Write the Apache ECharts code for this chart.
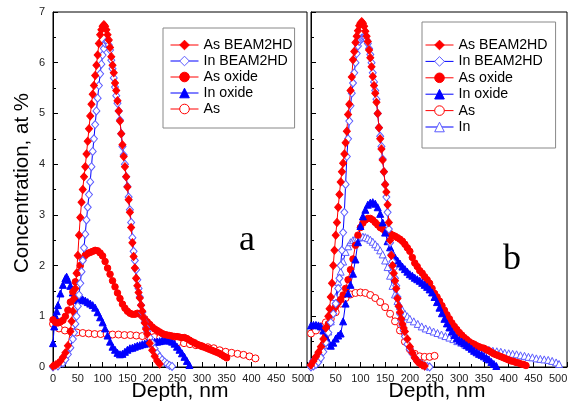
<!DOCTYPE html>
<html>
<head>
<meta charset="utf-8">
<script src="https://cdn.jsdelivr.net/npm/echarts@6/dist/echarts.min.js"></script>
<style>
html,body{margin:0;padding:0;background:#fff;}
#c{width:574px;height:409px;}
</style>
</head>
<body>
<div id="c"></div>
<script>
// ---------- Panel a data [depth nm, concentration at %] ----------
const aAsBeam = [[0,0.02],[5,0.04],[10,0.07],[15,0.12],[20,0.19],[25,0.28],[30,0.42],[35,0.7],[37.5,0.9],[40,1.1],[42.5,1.35],[45,1.55],[47.5,1.85],[50,2.2],[52.5,2.6],[55,2.95],[57.5,3.25],[60,3.5],[62.5,3.75],[65,3.95],[67.5,4.2],[70,4.45],[72.5,4.7],[75,4.95],[77.5,5.18],[80,5.38],[82.5,5.55],[85,5.75],[87.5,5.95],[90,6.15],[92.5,6.38],[95,6.55],[97.5,6.65],[100,6.72],[102.5,6.75],[105,6.72],[107.5,6.65],[110,6.55],[112.5,6.45],[115,6.3],[117.5,6.12],[120,5.95],[122.5,5.8],[125,5.6],[127.5,5.45],[130,5.25],[132.5,5.05],[135,4.85],[137.5,4.6],[140,4.38],[142.5,4.15],[145,3.95],[147.5,3.75],[150,3.55],[152.5,3.3],[155,3.05],[157.5,2.75],[160,2.45],[162.5,2.18],[165,1.95],[167.5,1.75],[170,1.6],[172.5,1.47],[175,1.36],[177.5,1.22],[180,1.1],[182.5,0.97],[185,0.87],[187.5,0.75],[190,0.65],[195,0.47],[200,0.33],[205,0.21],[210,0.12],[215,0.06]];
const aInBeam = [[0,0],[10,0.02],[20,0.08],[25,0.15],[30,0.25],[35,0.38],[40,0.55],[42.5,0.68],[45,0.85],[47.5,1.0],[50,1.2],[52.5,1.42],[55,1.65],[57.5,1.88],[60,2.1],[62.5,2.35],[65,2.62],[67.5,2.9],[70,3.15],[72.5,3.4],[75,3.65],[77.5,3.95],[80,4.25],[82.5,4.5],[85,4.78],[87.5,5.05],[90,5.3],[92.5,5.55],[95,5.78],[97.5,5.97],[100,6.15],[102.5,6.28],[105,6.38],[107.5,6.42],[110,6.42],[112.5,6.35],[115,6.25],[117.5,6.05],[120,5.88],[122.5,5.7],[125,5.52],[127.5,5.35],[130,5.2],[132.5,5.05],[135,4.87],[137.5,4.6],[140,4.35],[142.5,4.18],[145,4.0],[147.5,3.75],[150,3.56],[152.5,3.35],[155,3.1],[157.5,2.85],[160,2.55],[162.5,2.28],[165,2.1],[167.5,1.92],[170,1.72],[172.5,1.55],[175,1.38],[177.5,1.22],[180,1.08],[182.5,0.97],[185,0.88],[187.5,0.78],[190,0.7],[195,0.58],[200,0.47],[205,0.36],[210,0.27],[215,0.2],[220,0.14],[225,0.1],[230,0.06],[235,0.03],[240,0.01]];
const aAsOxide = [[0,0.93],[5,0.88],[10,0.87],[15,0.89],[20,0.92],[25,1.0],[30,1.12],[35,1.28],[40,1.48],[45,1.68],[50,1.86],[55,2.0],[60,2.12],[65,2.2],[70,2.24],[75,2.26],[80,2.28],[85,2.3],[90,2.29],[95,2.25],[100,2.19],[105,2.08],[110,1.95],[115,1.83],[120,1.7],[125,1.58],[130,1.46],[135,1.35],[140,1.24],[145,1.16],[150,1.1],[155,1.06],[160,1.04],[165,1.04],[170,1.06],[175,1.04],[180,1.0],[185,0.95],[190,0.89],[195,0.84],[200,0.79],[205,0.75],[210,0.72],[215,0.69],[220,0.66],[225,0.64],[230,0.63],[235,0.62],[240,0.61],[245,0.6],[250,0.6],[255,0.59],[260,0.58],[265,0.58],[270,0.56],[275,0.53],[280,0.5],[285,0.48],[290,0.45],[295,0.43],[300,0.41],[305,0.39],[310,0.37],[315,0.35],[320,0.33],[325,0.31],[330,0.29],[335,0.27],[340,0.24],[345,0.21],[350,0.18]];
const aInOxide = [[0,0.47],[2.5,0.8],[5,1.0],[7.5,1.1],[10,1.22],[15,1.45],[20,1.62],[25,1.75],[27.5,1.78],[30,1.72],[35,1.6],[40,1.47],[45,1.36],[50,1.32],[55,1.35],[60,1.33],[65,1.31],[70,1.28],[75,1.25],[80,1.22],[85,1.17],[90,1.08],[95,0.98],[100,0.88],[105,0.76],[110,0.62],[115,0.5],[120,0.4],[125,0.34],[130,0.28],[135,0.25],[140,0.26],[145,0.3],[150,0.34],[155,0.37],[160,0.38],[165,0.4],[170,0.42],[175,0.43],[180,0.45],[185,0.46],[190,0.47],[195,0.48],[200,0.49],[205,0.5],[210,0.5],[215,0.51],[220,0.52],[225,0.53],[230,0.53],[235,0.52],[240,0.5],[245,0.46],[250,0.4],[255,0.34],[260,0.27],[265,0.2],[270,0.12],[275,0.04]];
const aAs = [[0,0.85],[12,0.76],[24,0.72],[36,0.7],[48,0.68],[60,0.67],[72,0.66],[84,0.65],[96,0.65],[108,0.65],[120,0.64],[132,0.64],[144,0.63],[156,0.63],[168,0.62],[180,0.61],[192,0.6],[204,0.59],[216,0.58],[228,0.56],[240,0.52],[252,0.49],[264,0.47],[276,0.45],[288,0.43],[300,0.41],[312,0.39],[324,0.37],[336,0.33],[348,0.3],[360,0.28],[372,0.26],[384,0.24],[396,0.21],[408,0.17]];

// ---------- Panel b data ----------
const bAsBeam = [[0,0.04],[5,0.12],[10,0.2],[15,0.29],[20,0.4],[25,0.55],[30,0.77],[35,1.0],[37.5,1.15],[40,1.38],[42.5,1.65],[45,2.0],[47.5,2.3],[50,2.6],[52.5,2.85],[55,3.15],[57.5,3.4],[60,3.65],[62.5,3.85],[65,4.02],[67.5,4.2],[70,4.42],[72.5,4.65],[75,4.98],[77.5,5.18],[80,5.45],[82.5,5.72],[85,6.06],[87.5,6.22],[90,6.4],[92.5,6.52],[95,6.63],[97.5,6.73],[100,6.78],[102.5,6.81],[105,6.78],[107.5,6.72],[110,6.62],[112.5,6.52],[115,6.42],[117.5,6.25],[120,6.1],[122.5,5.92],[125,5.73],[127.5,5.55],[130,5.4],[132.5,5.22],[135,5.0],[137.5,4.72],[140,4.5],[142.5,4.3],[145,4.08],[147.5,3.85],[150,3.6],[152.5,3.45],[155,3.2],[157.5,2.85],[160,2.5],[162.5,2.2],[165,2.0],[167.5,1.85],[170,1.7],[172.5,1.55],[175,1.35],[177.5,1.2],[180,1.08],[182.5,0.95],[185,0.85],[187.5,0.77],[190,0.7],[195,0.55],[200,0.4],[205,0.28],[210,0.18],[215,0.11],[220,0.07],[225,0.04],[230,0.02]];
const bInBeam = [[0,0],[5,0.02],[10,0.05],[15,0.1],[20,0.18],[25,0.3],[30,0.48],[35,0.68],[40,0.88],[45,1.05],[50,1.25],[55,1.55],[57.5,1.75],[60,2.0],[62.5,2.3],[65,2.65],[67.5,3.05],[70,3.6],[72.5,4.15],[75,4.5],[77.5,4.85],[80,5.15],[82.5,5.4],[85,5.6],[87.5,5.8],[90,6.0],[92.5,6.18],[95,6.33],[97.5,6.42],[100,6.46],[102.5,6.48],[105,6.49],[107.5,6.5],[110,6.5],[112.5,6.45],[115,6.38],[117.5,6.28],[120,6.16],[122.5,6.0],[125,5.8],[127.5,5.62],[130,5.45],[132.5,5.28],[135,5.0],[137.5,4.72],[140,4.55],[142.5,4.35],[145,4.1],[147.5,3.85],[150,3.6],[152.5,3.35],[155,3.05],[157.5,2.72],[160,2.45],[162.5,2.22],[165,2.08],[167.5,1.95],[170,1.75],[172.5,1.6],[175,1.38],[177.5,1.2],[180,1.05],[182.5,0.92],[185,0.82],[187.5,0.72],[190,0.6],[195,0.45],[200,0.35],[205,0.26],[210,0.18],[215,0.12],[220,0.08],[225,0.05],[230,0.02],[235,0.01],[240,0]];
const bAsOxide = [[0,0.02],[5,0.07],[10,0.14],[15,0.23],[20,0.32],[25,0.45],[30,0.62],[35,0.85],[40,1.02],[45,1.12],[50,1.2],[55,1.27],[60,1.33],[65,1.42],[70,1.55],[75,1.72],[80,1.92],[85,2.13],[90,2.4],[95,2.6],[100,2.75],[105,2.84],[110,2.9],[115,2.93],[120,2.93],[125,2.9],[130,2.85],[135,2.8],[140,2.75],[145,2.72],[150,2.68],[155,2.65],[160,2.63],[165,2.6],[170,2.58],[175,2.55],[180,2.52],[185,2.48],[190,2.42],[195,2.35],[200,2.28],[205,2.16],[210,2.05],[215,1.98],[220,1.9],[225,1.85],[230,1.78],[235,1.72],[240,1.65],[245,1.55],[250,1.45],[255,1.38],[260,1.3],[265,1.21],[270,1.12],[275,1.03],[280,0.95],[285,0.87],[290,0.8],[295,0.74],[300,0.68],[305,0.63],[310,0.58],[315,0.54],[320,0.5],[325,0.47],[330,0.45],[335,0.42],[340,0.4],[345,0.38],[350,0.37],[355,0.34],[360,0.32],[365,0.29],[370,0.26],[375,0.24],[380,0.22],[385,0.2],[390,0.18],[395,0.16],[400,0.14],[405,0.12],[410,0.11],[415,0.09],[420,0.08],[425,0.06],[430,0.05],[435,0.03]];
const bInOxide = [[0,0.82],[5,0.83],[10,0.83],[15,0.82],[20,0.8],[25,0.72],[30,0.6],[35,0.5],[40,0.42],[45,0.48],[50,0.56],[55,0.62],[60,0.66],[65,0.9],[70,1.25],[75,1.45],[80,1.62],[85,1.84],[90,2.12],[95,2.46],[100,2.78],[105,2.97],[110,3.1],[115,3.2],[120,3.24],[125,3.25],[130,3.22],[135,3.15],[140,3.02],[145,2.85],[150,2.65],[155,2.48],[160,2.36],[165,2.25],[170,2.16],[175,2.1],[180,2.04],[185,1.98],[190,1.93],[195,1.88],[200,1.83],[205,1.8],[210,1.76],[215,1.73],[220,1.7],[225,1.66],[230,1.62],[235,1.58],[240,1.53],[245,1.47],[250,1.38],[255,1.28],[260,1.17],[265,1.06],[270,0.95],[275,0.86],[280,0.78],[285,0.7],[290,0.63],[295,0.57],[300,0.53],[305,0.5],[310,0.47],[315,0.43],[320,0.4],[325,0.36],[330,0.32],[335,0.29],[340,0.26],[345,0.24],[350,0.21],[355,0.18],[360,0.15],[365,0.1],[370,0.06],[375,0.02]];
const bAs = [[0,0.66],[10,0.72],[20,0.8],[30,0.88],[40,0.95],[50,1.08],[60,1.25],[70,1.36],[80,1.43],[90,1.46],[100,1.47],[110,1.46],[120,1.42],[130,1.36],[140,1.28],[150,1.18],[160,1.05],[170,0.9],[180,0.72],[190,0.5],[200,0.35],[210,0.26],[220,0.21],[230,0.2],[240,0.2],[250,0.22]];
const bIn = [[0,0.1],[5,0.15],[10,0.22],[15,0.28],[20,0.35],[25,0.43],[30,0.52],[35,0.7],[40,0.9],[45,1.1],[50,1.38],[55,1.68],[60,1.88],[65,2.08],[70,2.27],[75,2.38],[80,2.46],[85,2.5],[90,2.53],[95,2.55],[100,2.56],[105,2.57],[110,2.56],[115,2.54],[120,2.51],[125,2.47],[130,2.42],[135,2.37],[140,2.3],[145,2.22],[150,2.1],[155,1.97],[160,1.8],[165,1.6],[170,1.43],[175,1.3],[180,1.2],[185,1.12],[190,1.05],[195,1.0],[200,0.95],[208,0.9],[216,0.85],[224,0.8],[232,0.76],[240,0.73],[248,0.7],[256,0.67],[264,0.64],[272,0.61],[280,0.58],[288,0.55],[296,0.51],[304,0.48],[312,0.44],[320,0.41],[328,0.39],[336,0.37],[344,0.36],[352,0.35],[360,0.34],[368,0.32],[376,0.31],[384,0.3],[392,0.28],[400,0.27],[408,0.26],[416,0.25],[424,0.23],[432,0.22],[440,0.2],[448,0.19],[456,0.17],[464,0.16],[472,0.15],[480,0.14],[488,0.12],[496,0.09],[502,0.06]];

const legendA = ['As BEAM2HD','In BEAM2HD','As oxide','In oxide','As'];
const legendB = ['As BEAM2HD','In BEAM2HD','As oxide','In oxide','As','In'];
const xLabel = 'Depth, nm';
const yLabel = 'Concentration, at %';

const RED = '#ff0000', BLUE = '#0000ff', LBLUE = '#5c5cff';
const FONT = 'Liberation Sans, Arial, sans-serif';

const styles = {
  'As BEAM2HD': {symbol:'diamond', symbolSize:[7,8], color:RED, fill:RED, border:RED},
  'In BEAM2HD': {symbol:'diamond', symbolSize:[7,8], color:BLUE, fill:'#fff', border:LBLUE},
  'As oxide':   {symbol:'circle', symbolSize:6.5, color:RED, fill:RED, border:RED},
  'In oxide':   {symbol:'triangle', symbolSize:7, color:BLUE, fill:BLUE, border:BLUE},
  'As':         {symbol:'circle', symbolSize:7, color:RED, fill:'#fff', border:RED},
  'In':         {symbol:'triangle', symbolSize:7, color:BLUE, fill:'#fff', border:LBLUE}
};

function mkSeries(name, data, idx) {
  const s = styles[name];
  return {
    type:'line', name:name, data:data, xAxisIndex:idx, yAxisIndex:idx,
    symbol:s.symbol, symbolSize:s.symbolSize, showSymbol:true, showAllSymbol:true, animation:false,
    lineStyle:{color:s.color, width:1},
    itemStyle:{color:s.fill, borderColor:s.border, borderWidth:1},
    emphasis:{disabled:true}
  };
}
function mkLegendData(names) {
  return names.map(n => {
    const s = styles[n];
    return {name:n, itemStyle:{color:s.fill, borderColor:s.border, borderWidth:1}, lineStyle:{color:s.color, width:1}};
  });
}

function xAxisDef(idx, max) {
  return {
    type:'value', gridIndex:idx, min:0, max:max, interval:50,
    axisLine:{show:true, lineStyle:{color:'#000', width:1}},
    axisTick:{show:true, inside:true, length:5, lineStyle:{color:'#000'}},
    minorTick:{show:true, splitNumber:2, length:3, lineStyle:{color:'#000'}},
    splitLine:{show:false}, minorSplitLine:{show:false},
    axisLabel:{show:true, showMaxLabel:false, fontSize:11, color:'#222', fontFamily:FONT, margin:6}
  };
}
function yAxisDef(idx, showLabel) {
  return {
    type:'value', gridIndex:idx, min:0, max:7, interval:1,
    axisLine:{show:true, lineStyle:{color:'#000', width:1}},
    axisTick:{show:true, inside:true, length:5, lineStyle:{color:'#000'}},
    minorTick:{show:true, splitNumber:2, length:3, lineStyle:{color:'#000'}},
    splitLine:{show:false}, minorSplitLine:{show:false},
    axisLabel:{show:showLabel, fontSize:11, color:'#222', fontFamily:FONT, margin:8}
  };
}

const legendCommon = {
  orient:'vertical', itemWidth:28, itemHeight:12, itemGap:0,
  borderColor:'#888', borderWidth:1, backgroundColor:'#fff',
  itemStyle:{borderWidth:1},
  textStyle:{fontSize:14.2, fontFamily:FONT, color:'#000', lineHeight:16},
  selectedMode:false
};

const chart = echarts.init(document.getElementById('c'), null, {renderer:'canvas'});
chart.setOption({
  animation:false,
  backgroundColor:'#fff',
  grid:[
    {left:53, top:12, width:254, height:355, show:true, borderColor:'#000', borderWidth:1, backgroundColor:'transparent'},
    {left:311, top:12, width:256, height:355, show:true, borderColor:'#000', borderWidth:1, backgroundColor:'transparent'}
  ],
  xAxis:[xAxisDef(0, 512), xAxisDef(1, 518)],
  yAxis:[yAxisDef(0, true), yAxisDef(1, false)],
  legend:[
    Object.assign({}, legendCommon, {left:163, top:28, padding:[9,2,11,7], data:mkLegendData(legendA)}),
    Object.assign({}, legendCommon, {left:422, top:22, padding:[15,8,13,3], itemGap:0.4, data:mkLegendData(legendB)})
  ],
  series:[
    mkSeries('As', aAs, 0),
    mkSeries('In oxide', aInOxide, 0),
    mkSeries('As oxide', aAsOxide, 0),
    mkSeries('In BEAM2HD', aInBeam, 0),
    mkSeries('As BEAM2HD', aAsBeam, 0),
    mkSeries('In', bIn, 1),
    mkSeries('As', bAs, 1),
    mkSeries('As oxide', bAsOxide, 1),
    mkSeries('In oxide', bInOxide, 1),
    mkSeries('In BEAM2HD', bInBeam, 1),
    mkSeries('As BEAM2HD', bAsBeam, 1)
  ],
  graphic:[
    {type:'text', x:22, y:183, rotation:Math.PI/2, style:{text:yLabel, font:'20.5px ' + FONT, fill:'#000', align:'center', verticalAlign:'middle'}},
    {type:'text', x:180, y:391, style:{text:xLabel, font:'21px ' + FONT, fill:'#000', align:'center', verticalAlign:'middle'}},
    {type:'text', x:437, y:391, style:{text:xLabel, font:'21px ' + FONT, fill:'#000', align:'center', verticalAlign:'middle'}},
    {type:'text', x:247, y:223, style:{text:'a', font:'36px Liberation Serif, Times New Roman, serif', fill:'#000', align:'center', verticalAlign:'alphabetic'}},
    {type:'text', x:512, y:242, style:{text:'b', font:'36px Liberation Serif, Times New Roman, serif', fill:'#000', align:'center', verticalAlign:'alphabetic'}}
  ]
});
</script>
</body>
</html>
